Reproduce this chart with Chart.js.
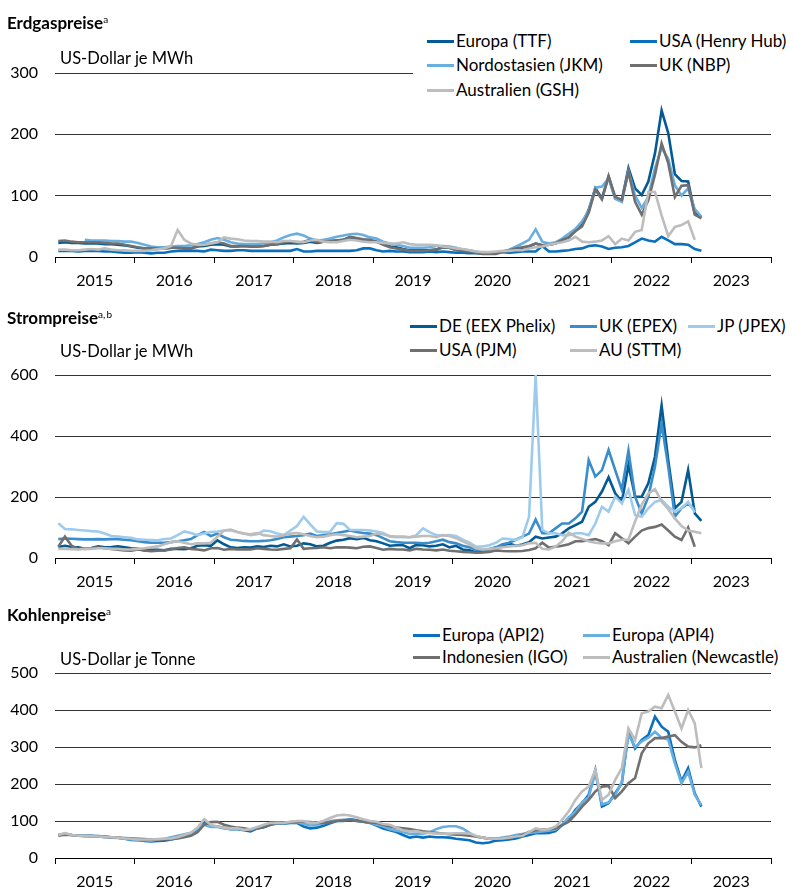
<!DOCTYPE html>
<html>
<head>
<meta charset="utf-8">
<script src="https://cdn.jsdelivr.net/npm/chart.js@4.4.1/dist/chart.umd.min.js"></script>
<style>
  body { margin: 0; background: #fff; font-family: Lato, sans-serif; color: #000; }
  #page { position: relative; width: 793px; height: 891px; overflow: hidden; }
  .panel { position: absolute; left: 0; width: 793px; }
  .title { position: absolute; left: 7px; font-size: 17px; line-height: 20px; font-weight: 700; z-index: 2; }
  .title span { font-size: 10px; font-weight: 400; vertical-align: 6px; }
  .unit { position: absolute; left: 60px; font-size: 16.5px; line-height: 20px; z-index: 2; }
  .legend { position: absolute; background: #fff; z-index: 2; }
  .item { position: absolute; white-space: nowrap; font-size: 17px; line-height: 20px; }
  .item i { display: inline-block; width: 27px; height: 3px; vertical-align: middle; margin-right: 2px; position: relative; top: -1px; }
</style>
</head>
<body>
<div id="page">
  <div class="panel" style="top:0;height:300px"><canvas id="gasChart"></canvas></div>
  <div class="panel" style="top:300px;height:300px"><canvas id="powerChart"></canvas></div>
  <div class="panel" style="top:600px;height:291px"><canvas id="coalChart"></canvas></div>

  <div class="title" style="top:9px">Erdgaspreise<span>a</span></div>
  <div class="unit" style="top:48px">US-Dollar je MWh</div>
  <div class="legend" id="gasLegend" style="left:413px;top:26px;width:380px;height:78px"></div>

  <div class="title" style="top:304px">Strompreise<span>a,&thinsp;b</span></div>
  <div class="unit" style="top:341px">US-Dollar je MWh</div>
  <div class="legend" id="powerLegend" style="left:400px;top:312px;width:393px;height:52px"></div>

  <div class="title" style="top:601px">Kohlenpreise<span>a</span></div>
  <div class="unit" style="top:649px">US-Dollar je Tonne</div>
  <div class="legend" id="coalLegend" style="left:400px;top:622px;width:393px;height:48px"></div>
</div>
<script>
// Monatswerte ab Januar 2015
const firstYear = 2015;
const yearLabels = ['2015', '2016', '2017', '2018', '2019', '2020', '2021', '2022', '2023'];

// Erdgaspreise, US-Dollar je MWh
const gasNames = ['Europa (TTF)', 'USA (Henry Hub)', 'Nordostasien (JKM)', 'UK (NBP)', 'Australien (GSH)'];
const gasTTF = [23, 24, 23, 23, 22, 22, 22, 21, 21, 20, 19, 17,
  15, 14, 13, 13, 14, 15, 15, 14, 14, 17, 18, 20,
  21, 20, 17, 17, 18, 17, 17, 18, 20, 21, 22, 23,
  22, 23, 25, 23, 25, 26, 27, 28, 32, 30, 28, 27,
  25, 21, 17, 16, 13, 11, 11, 11, 11, 12, 16, 15,
  12, 10, 9, 7, 6, 6, 6, 9, 11, 14, 15, 17,
  22, 19, 20, 22, 28, 32, 44, 54, 77, 112, 96, 131,
  96, 93, 145, 112, 101, 123, 169, 239, 202, 135, 124, 123,
  71, 65];
const gasHenryHub = [10, 10, 10, 9, 10, 10, 10, 9, 9, 8, 7, 7,
  8, 7, 6, 7, 7, 9, 10, 10, 10, 10, 9, 12,
  11, 10, 10, 11, 11, 10, 10, 10, 10, 10, 10, 10,
  13, 9, 9, 10, 10, 10, 10, 10, 10, 11, 14, 14,
  11, 9, 10, 9, 9, 8, 8, 8, 9, 8, 9, 8,
  7, 7, 6, 6, 6, 6, 6, 8, 7, 8, 9, 9,
  9, 18, 9, 9, 10, 11, 13, 14, 18, 19, 17, 13,
  15, 16, 18, 24, 30, 27, 25, 33, 27, 21, 21, 20,
  13, 10];
const gasJKM = [null, null, null, null, 28, 27, 27, 27, 26, 26, 25, 25,
  23, 20, 17, 16, 16, 17, 18, 18, 19, 21, 24, 28,
  31, 28, 24, 22, 21, 21, 21, 22, 24, 27, 32, 36,
  38, 35, 30, 27, 28, 30, 33, 35, 37, 38, 36, 32,
  30, 25, 22, 20, 18, 15, 15, 15, 16, 18, 18, 17,
  15, 12, 11, 9, 7, 7, 7, 8, 12, 17, 22, 28,
  45, 25, 22, 24, 30, 38, 46, 58, 75, 113, 115, 128,
  95, 90, 140, 100, 80, 98, 145, 178, 160, 117, 100, 112,
  78, 66];
const gasNBP = [26, 27, 25, 24, 24, 24, 24, 23, 22, 22, 20, 18,
  16, 14, 14, 14, 14, 15, 15, 14, 14, 18, 20, 22,
  24, 22, 18, 18, 18, 17, 17, 18, 20, 21, 24, 26,
  23, 25, 28, 24, 25, 26, 27, 28, 33, 31, 29, 28,
  25, 20, 16, 14, 12, 10, 10, 10, 11, 12, 16, 15,
  11, 10, 9, 7, 5, 5, 5, 8, 11, 14, 16, 18,
  22, 19, 20, 22, 28, 32, 42, 50, 72, 110, 94, 132,
  98, 93, 139, 90, 69, 93, 134, 185, 153, 98, 116, 117,
  69, 63];
const gasGSH = [12, 12, 11, 11, 12, 13, 12, 14, 12, 11, 11, 10,
  10, 10, 11, 13, 14, 18, 44, 28, 22, 20, 20, 22,
  24, 32, 30, 29, 27, 26, 26, 25, 25, 24, 26, 26,
  25, 24, 27, 28, 25, 24, 24, 26, 28, 27, 25, 24,
  24, 23, 22, 22, 24, 21, 20, 20, 20, 19, 17, 16,
  14, 13, 11, 9, 8, 8, 9, 10, 10, 11, 11, 14,
  16, 17, 20, 22, 24, 27, 33, 25, 24, 25, 27, 34,
  21, 30, 27, 41, 44, 106, 106, 68, 34, 49, 52, 58,
  28];

// Strompreise, US-Dollar je MWh
const powerNames = ['DE (EEX Phelix)', 'UK (EPEX)', 'JP (JPEX)', 'USA (PJM)', 'AU (STTM)'];
const powerDE = [36, 40, 36, 35, 30, 33, 38, 35, 36, 38, 35, 32,
  30, 25, 27, 27, 25, 30, 30, 29, 32, 40, 42, 40,
  58, 45, 35, 33, 35, 34, 38, 36, 40, 38, 45, 38,
  40, 48, 45, 38, 40, 50, 57, 60, 65, 62, 66, 58,
  55, 48, 40, 42, 42, 32, 43, 42, 38, 40, 45, 35,
  40, 28, 25, 19, 20, 29, 34, 40, 47, 40, 44, 52,
  70, 64, 67, 70, 81, 97, 108, 119, 168, 184, 218, 265,
  212, 184, 305, 201, 201, 245, 332, 500, 321, 163, 184, 288,
  146, 122];
const powerUK = [62, 64, 63, 62, 61, 61, 62, 61, 62, 62, 60, 58,
  55, 52, 50, 50, 50, 52, 55, 58, 62, 75, 85, 72,
  80, 68, 60, 58, 56, 55, 55, 56, 58, 62, 68, 70,
  72, 75, 80, 72, 75, 78, 82, 86, 90, 85, 82, 80,
  75, 65, 55, 52, 50, 50, 50, 48, 50, 55, 60, 52,
  48, 40, 35, 27, 25, 28, 35, 45, 50, 60, 70, 80,
  126, 81, 81, 97, 113, 113, 130, 152, 321, 267, 288, 354,
  288, 224, 352, 201, 146, 201, 300, 441, 300, 135, 163, 179,
  160];
const powerJP = [114, 95, 94, 92, 90, 88, 87, 80, 72, 70, 68, 66,
  61, 60, 59, 58, 62, 64, 75, 87, 82, 75, 80, 85,
  87, 90, 92, 85, 80, 75, 78, 90, 88, 80, 75, 90,
  105, 135, 110, 87, 85, 86, 114, 112, 92, 92, 92, 90,
  87, 82, 70, 68, 69, 68, 75, 97, 85, 75, 74, 75,
  72, 60, 50, 37, 38, 42, 50, 64, 62, 59, 68, 135,
  600, 92, 81, 81, 75, 75, 81, 81, 75, 113, 168, 152,
  201, 179, 223, 141, 135, 163, 184, 190, 168, 152, 163, 184,
  149];
const powerPJM = [37, 70, 40, 30, 32, 32, 35, 32, 30, 27, 25, 24,
  28, 25, 22, 24, 25, 28, 33, 35, 30, 28, 25, 32,
  33, 27, 30, 28, 28, 28, 32, 30, 28, 27, 30, 32,
  61, 30, 32, 33, 35, 32, 35, 35, 34, 32, 37, 38,
  33, 27, 30, 28, 28, 25, 30, 28, 27, 25, 28, 24,
  22, 20, 19, 17, 18, 20, 25, 23, 22, 22, 23, 26,
  32, 50, 34, 37, 40, 45, 55, 55, 58, 62, 55, 42,
  81, 65, 48, 70, 90, 98, 102, 110, 90, 70, 59, 100,
  37];
const powerAU = [30, 30, 29, 28, 30, 30, 32, 32, 30, 30, 28, 28,
  30, 32, 35, 38, 45, 52, 55, 50, 45, 48, 48, 50,
  70, 90, 92, 85, 80, 78, 82, 75, 72, 70, 75, 80,
  82, 78, 72, 68, 70, 75, 78, 75, 72, 68, 70, 72,
  80, 78, 72, 70, 70, 68, 70, 72, 72, 68, 75, 72,
  65, 55, 45, 32, 28, 30, 32, 35, 38, 40, 42, 48,
  50, 30, 28, 37, 55, 83, 70, 62, 55, 50, 48, 48,
  55, 60, 60, 120, 175, 212, 226, 185, 160, 130, 105, 90,
  86, 81];

// Kohlenpreise, US-Dollar je Tonne
const coalNames = ['Europa (API2)', 'Europa (API4)', 'Indonesien (IGO)', 'Australien (Newcastle)'];
const coalAPI2 = [62, 65, 62, 60, 61, 60, 59, 58, 56, 55, 52, 49,
  48, 46, 45, 46, 47, 50, 54, 61, 66, 78, 95, 85,
  85, 82, 78, 78, 75, 72, 80, 83, 90, 93, 93, 95,
  95, 85, 80, 82, 87, 94, 100, 100, 105, 102, 98, 95,
  88, 80, 75, 70, 62, 55, 58, 55, 58, 56, 56, 55,
  52, 50, 48, 42, 40, 42, 47, 48, 50, 53, 58, 62,
  67, 67, 68, 73, 89, 105, 130, 148, 171, 238, 139, 148,
  175, 202, 341, 296, 319, 332, 382, 355, 341, 265, 207, 243,
  175, 139];
const coalAPI4 = [62, 66, 62, 60, 60, 59, 58, 56, 55, 54, 52, 50,
  49, 48, 47, 50, 52, 56, 60, 64, 68, 80, 90, 84,
  84, 80, 78, 80, 78, 76, 82, 86, 92, 95, 94, 96,
  97, 92, 88, 90, 93, 100, 102, 103, 104, 100, 98, 96,
  90, 85, 78, 74, 70, 65, 66, 65, 70, 78, 84, 86,
  86, 80, 68, 58, 55, 52, 52, 55, 58, 62, 65, 68,
  70, 72, 74, 77, 90, 110, 125, 150, 165, 230, 145, 150,
  170, 205, 335, 300, 315, 325, 341, 325, 320, 256, 202, 233,
  171, 143];
const coalIGO = [60, 63, 62, 60, 59, 59, 58, 57, 56, 55, 54, 53,
  52, 51, 50, 50, 50, 51, 53, 56, 60, 70, 90, 97,
  98, 90, 85, 82, 80, 77, 80, 84, 90, 95, 95, 97,
  98, 98, 97, 95, 95, 97, 100, 102, 103, 100, 98, 96,
  95, 90, 85, 82, 80, 78, 75, 72, 70, 68, 66, 64,
  63, 62, 60, 58, 55, 52, 52, 53, 55, 58, 62, 70,
  75, 77, 78, 80, 89, 98, 117, 139, 157, 180, 193, 195,
  162, 180, 202, 216, 283, 310, 324, 324, 328, 332, 314, 301,
  299, 305];
const coalNewcastle = [62, 67, 62, 60, 60, 59, 58, 57, 56, 55, 53, 52,
  50, 50, 50, 51, 52, 53, 56, 62, 68, 82, 105, 90,
  85, 82, 80, 80, 76, 78, 84, 90, 95, 95, 95, 98,
  100, 100, 95, 95, 100, 108, 115, 117, 115, 110, 105, 100,
  98, 92, 90, 82, 75, 72, 73, 68, 68, 66, 66, 66,
  67, 67, 66, 60, 55, 52, 52, 53, 55, 58, 60, 70,
  80, 76, 78, 85, 103, 126, 157, 180, 193, 238, 157, 171,
  211, 243, 350, 319, 391, 396, 409, 405, 441, 396, 350, 400,
  364, 243];

const darkBlue = '#035a94';
const midBlue = '#0a70bd';
const blue2 = '#3a8ccb';
const lightBlue = '#68aee0';
const paleBlue = '#9ecbec';
const grey = '#707070';
const lightGrey = '#bdbdbd';

Chart.defaults.font.family = 'Lato';
Chart.defaults.font.size = 16;
Chart.defaults.color = '#000';

function isYear(v) {
  return Math.abs(v - Math.round(v)) < 0.01;
}

// Monatsmitte als Position auf der Jahresachse
function toPoints(values) {
  return values.map((v, i) => ({ x: firstYear + (i + 0.5) / 12, y: v }));
}

function makeChart(id, names, series, colors, yMax, yStep, padTop, axisHeight) {
  return new Chart(id, {
    type: 'line',
    data: {
      datasets: names.map((name, i) => ({
        label: name,
        data: toPoints(series[i]),
        borderColor: colors[i],
        backgroundColor: colors[i],
        borderWidth: 2.6,
        pointRadius: 0,
        tension: 0,
        order: names.length - i
      }))
    },
    options: {
      responsive: true,
      maintainAspectRatio: false,
      animation: false,
      layout: { padding: { top: padTop, right: 22, left: 0, bottom: 0 } },
      plugins: {
        legend: { display: false },
        title: { display: false },
        tooltip: { enabled: false }
      },
      scales: {
        x: {
          type: 'linear',
          min: firstYear,
          max: firstYear + yearLabels.length,
          border: { color: '#000', width: 1 },
          grid: {
            drawOnChartArea: false,
            tickLength: 6,
            tickColor: ctx => isYear(ctx.tick.value) ? '#000' : 'rgba(0,0,0,0)'
          },
          ticks: {
            stepSize: 0.5,
            autoSkip: false,
            maxRotation: 0,
            padding: 8,
            callback: v => isYear(v) ? '' : yearLabels[Math.floor(v) - firstYear]
          },
          afterFit: s => { s.height = axisHeight; }
        },
        y: {
          min: 0,
          max: yMax,
          border: { display: false },
          grid: { color: '#333', drawTicks: false },
          ticks: { stepSize: yStep, padding: 17 },
          afterFit: s => { s.width = 55; }
        }
      }
    }
  });
}

function buildLegend(boxId, names, colors, colLefts, rowTops) {
  const box = document.getElementById(boxId);
  names.forEach((name, i) => {
    const item = document.createElement('div');
    item.className = 'item';
    item.style.left = colLefts[i % colLefts.length] + 'px';
    item.style.top = rowTops[Math.floor(i / colLefts.length)] + 'px';
    item.innerHTML = '<i style="background:' + colors[i] + '"></i>' + name;
    box.appendChild(item);
  });
}

const gasColors = [darkBlue, midBlue, lightBlue, grey, lightGrey];
const powerColors = [darkBlue, blue2, paleBlue, grey, lightGrey];
const coalColors = [midBlue, lightBlue, grey, lightGrey];

makeChart('gasChart', gasNames, [gasTTF, gasHenryHub, gasJKM, gasNBP, gasGSH], gasColors, 300, 100, 73, 43);
makeChart('powerChart', powerNames, [powerDE, powerUK, powerJP, powerPJM, powerAU], powerColors, 600, 200, 75, 42);
makeChart('coalChart', coalNames, [coalAPI2, coalAPI4, coalIGO, coalNewcastle], coalColors, 500, 100, 73, 33);

buildLegend('gasLegend', gasNames, gasColors, [14, 217], [5, 29, 54]);
buildLegend('powerLegend', powerNames, powerColors, [10, 170, 288], [4, 28]);
buildLegend('coalLegend', coalNames, coalColors, [13, 183], [3, 25]);
</script>
</body>
</html>
